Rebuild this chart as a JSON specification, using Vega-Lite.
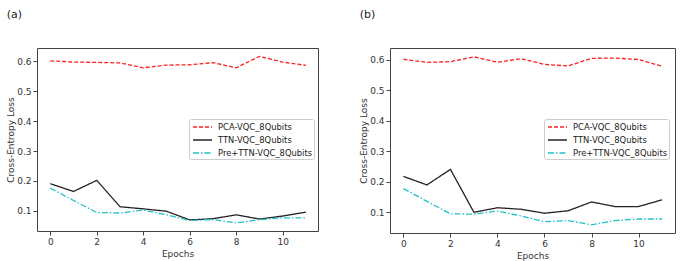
{
  "$schema": "https://vega.github.io/schema/vega-lite/v6.json",
  "autosize": {"type": "pad"},
  "padding": {"left": 6, "top": 8, "right": 0, "bottom": 0},
  "background": "white",
  "config": {
    "font": "DejaVu Sans",
    "view": {"stroke": "#444", "strokeWidth": 1},
    "axis": {"grid": false, "domain": false, "tickColor": "#444", "tickSize": 4, "labelFontSize": 9, "labelColor": "#333", "titleFontSize": 9, "titleFontWeight": "normal", "titleColor": "#333", "labelPadding": 2},
    "legend": {"labelFontSize": 8.4, "labelColor": "#222", "fillColor": "white", "strokeColor": "#ccc", "cornerRadius": 2, "padding": 1, "rowPadding": 1, "symbolType": "M-0.667,0H2.5", "symbolSize": 144, "symbolStrokeWidth": 1.3, "title": null, "labelLimit": 200, "labelOffset": 14},
    "title": {"fontSize": 11, "fontWeight": "normal", "anchor": "start", "color": "#222", "frame": "bounds"}
  },
  "datasets": {
    "loss": [
      {"p": "a", "m": "PCA-VQC_8Qubits", "e": 0, "v": 0.601},
      {"p": "a", "m": "PCA-VQC_8Qubits", "e": 1, "v": 0.597},
      {"p": "a", "m": "PCA-VQC_8Qubits", "e": 2, "v": 0.596},
      {"p": "a", "m": "PCA-VQC_8Qubits", "e": 3, "v": 0.594},
      {"p": "a", "m": "PCA-VQC_8Qubits", "e": 4, "v": 0.578},
      {"p": "a", "m": "PCA-VQC_8Qubits", "e": 5, "v": 0.587},
      {"p": "a", "m": "PCA-VQC_8Qubits", "e": 6, "v": 0.588},
      {"p": "a", "m": "PCA-VQC_8Qubits", "e": 7, "v": 0.595},
      {"p": "a", "m": "PCA-VQC_8Qubits", "e": 8, "v": 0.578},
      {"p": "a", "m": "PCA-VQC_8Qubits", "e": 9, "v": 0.616},
      {"p": "a", "m": "PCA-VQC_8Qubits", "e": 10, "v": 0.597},
      {"p": "a", "m": "PCA-VQC_8Qubits", "e": 11, "v": 0.586},
      {"p": "a", "m": "TTN-VQC_8Qubits", "e": 0, "v": 0.191},
      {"p": "a", "m": "TTN-VQC_8Qubits", "e": 1, "v": 0.165},
      {"p": "a", "m": "TTN-VQC_8Qubits", "e": 2, "v": 0.202},
      {"p": "a", "m": "TTN-VQC_8Qubits", "e": 3, "v": 0.114},
      {"p": "a", "m": "TTN-VQC_8Qubits", "e": 4, "v": 0.107},
      {"p": "a", "m": "TTN-VQC_8Qubits", "e": 5, "v": 0.099},
      {"p": "a", "m": "TTN-VQC_8Qubits", "e": 6, "v": 0.070},
      {"p": "a", "m": "TTN-VQC_8Qubits", "e": 7, "v": 0.074},
      {"p": "a", "m": "TTN-VQC_8Qubits", "e": 8, "v": 0.087},
      {"p": "a", "m": "TTN-VQC_8Qubits", "e": 9, "v": 0.073},
      {"p": "a", "m": "TTN-VQC_8Qubits", "e": 10, "v": 0.083},
      {"p": "a", "m": "TTN-VQC_8Qubits", "e": 11, "v": 0.096},
      {"p": "a", "m": "Pre+TTN-VQC_8Qubits", "e": 0, "v": 0.176},
      {"p": "a", "m": "Pre+TTN-VQC_8Qubits", "e": 1, "v": 0.135},
      {"p": "a", "m": "Pre+TTN-VQC_8Qubits", "e": 2, "v": 0.095},
      {"p": "a", "m": "Pre+TTN-VQC_8Qubits", "e": 3, "v": 0.093},
      {"p": "a", "m": "Pre+TTN-VQC_8Qubits", "e": 4, "v": 0.103},
      {"p": "a", "m": "Pre+TTN-VQC_8Qubits", "e": 5, "v": 0.087},
      {"p": "a", "m": "Pre+TTN-VQC_8Qubits", "e": 6, "v": 0.068},
      {"p": "a", "m": "Pre+TTN-VQC_8Qubits", "e": 7, "v": 0.071},
      {"p": "a", "m": "Pre+TTN-VQC_8Qubits", "e": 8, "v": 0.060},
      {"p": "a", "m": "Pre+TTN-VQC_8Qubits", "e": 9, "v": 0.071},
      {"p": "a", "m": "Pre+TTN-VQC_8Qubits", "e": 10, "v": 0.077},
      {"p": "a", "m": "Pre+TTN-VQC_8Qubits", "e": 11, "v": 0.077},
      {"p": "b", "m": "PCA-VQC_8Qubits", "e": 0, "v": 0.602},
      {"p": "b", "m": "PCA-VQC_8Qubits", "e": 1, "v": 0.592},
      {"p": "b", "m": "PCA-VQC_8Qubits", "e": 2, "v": 0.594},
      {"p": "b", "m": "PCA-VQC_8Qubits", "e": 3, "v": 0.610},
      {"p": "b", "m": "PCA-VQC_8Qubits", "e": 4, "v": 0.592},
      {"p": "b", "m": "PCA-VQC_8Qubits", "e": 5, "v": 0.604},
      {"p": "b", "m": "PCA-VQC_8Qubits", "e": 6, "v": 0.585},
      {"p": "b", "m": "PCA-VQC_8Qubits", "e": 7, "v": 0.580},
      {"p": "b", "m": "PCA-VQC_8Qubits", "e": 8, "v": 0.605},
      {"p": "b", "m": "PCA-VQC_8Qubits", "e": 9, "v": 0.606},
      {"p": "b", "m": "PCA-VQC_8Qubits", "e": 10, "v": 0.601},
      {"p": "b", "m": "PCA-VQC_8Qubits", "e": 11, "v": 0.579},
      {"p": "b", "m": "TTN-VQC_8Qubits", "e": 0, "v": 0.217},
      {"p": "b", "m": "TTN-VQC_8Qubits", "e": 1, "v": 0.189},
      {"p": "b", "m": "TTN-VQC_8Qubits", "e": 2, "v": 0.240},
      {"p": "b", "m": "TTN-VQC_8Qubits", "e": 3, "v": 0.099},
      {"p": "b", "m": "TTN-VQC_8Qubits", "e": 4, "v": 0.114},
      {"p": "b", "m": "TTN-VQC_8Qubits", "e": 5, "v": 0.109},
      {"p": "b", "m": "TTN-VQC_8Qubits", "e": 6, "v": 0.096},
      {"p": "b", "m": "TTN-VQC_8Qubits", "e": 7, "v": 0.104},
      {"p": "b", "m": "TTN-VQC_8Qubits", "e": 8, "v": 0.133},
      {"p": "b", "m": "TTN-VQC_8Qubits", "e": 9, "v": 0.118},
      {"p": "b", "m": "TTN-VQC_8Qubits", "e": 10, "v": 0.118},
      {"p": "b", "m": "TTN-VQC_8Qubits", "e": 11, "v": 0.140},
      {"p": "b", "m": "Pre+TTN-VQC_8Qubits", "e": 0, "v": 0.177},
      {"p": "b", "m": "Pre+TTN-VQC_8Qubits", "e": 1, "v": 0.135},
      {"p": "b", "m": "Pre+TTN-VQC_8Qubits", "e": 2, "v": 0.094},
      {"p": "b", "m": "Pre+TTN-VQC_8Qubits", "e": 3, "v": 0.093},
      {"p": "b", "m": "Pre+TTN-VQC_8Qubits", "e": 4, "v": 0.103},
      {"p": "b", "m": "Pre+TTN-VQC_8Qubits", "e": 5, "v": 0.087},
      {"p": "b", "m": "Pre+TTN-VQC_8Qubits", "e": 6, "v": 0.068},
      {"p": "b", "m": "Pre+TTN-VQC_8Qubits", "e": 7, "v": 0.072},
      {"p": "b", "m": "Pre+TTN-VQC_8Qubits", "e": 8, "v": 0.058},
      {"p": "b", "m": "Pre+TTN-VQC_8Qubits", "e": 9, "v": 0.072},
      {"p": "b", "m": "Pre+TTN-VQC_8Qubits", "e": 10, "v": 0.077},
      {"p": "b", "m": "Pre+TTN-VQC_8Qubits", "e": 11, "v": 0.077}
    ]
  },
  "data": {"name": "loss"},
  "bounds": "flush",
  "spacing": 72,
  "resolve": {"scale": {"color": "independent", "strokeDash": "independent"}, "legend": {"color": "independent", "strokeDash": "independent"}},
  "hconcat": [
    {
      "title": {"text": "(a)", "offset": 28},
      "width": 281,
      "height": 183,
      "transform": [{"filter": "datum.p === 'a'"}],
      "mark": {"type": "line", "strokeWidth": 1.3},
      "encoding": {
        "x": {"field": "e", "type": "quantitative", "title": "Epochs", "scale": {"domain": [-0.57, 11.52], "nice": false, "zero": false}, "axis": {"values": [0, 2, 4, 6, 8, 10], "titlePadding": 3}},
        "y": {"field": "v", "type": "quantitative", "title": "Cross-Entropy Loss", "scale": {"domain": [0.033, 0.644], "nice": false, "zero": false}, "axis": {"values": [0.1, 0.2, 0.3, 0.4, 0.5, 0.6], "format": ".1f", "titlePadding": 1}},
        "color": {"field": "m", "type": "nominal", "scale": {"domain": ["PCA-VQC_8Qubits", "TTN-VQC_8Qubits", "Pre+TTN-VQC_8Qubits"], "range": ["#ff2020", "#222222", "#20c0c8"]}, "legend": {"orient": "none", "legendX": 152, "legendY": 71}},
        "strokeDash": {"field": "m", "type": "nominal", "scale": {"domain": ["PCA-VQC_8Qubits", "TTN-VQC_8Qubits", "Pre+TTN-VQC_8Qubits"], "range": [[4, 2], [1, 0], [6, 2, 1.5, 2]]}, "legend": {"orient": "none", "legendX": 152, "legendY": 71}}
      }
    },
    {
      "title": {"text": "(b)", "offset": 28},
      "width": 285,
      "height": 185,
      "transform": [{"filter": "datum.p === 'b'"}],
      "mark": {"type": "line", "strokeWidth": 1.3},
      "encoding": {
        "x": {"field": "e", "type": "quantitative", "title": "Epochs", "scale": {"domain": [-0.57, 11.55], "nice": false, "zero": false}, "axis": {"values": [0, 2, 4, 6, 8, 10], "titlePadding": 3}},
        "y": {"field": "v", "type": "quantitative", "title": "Cross-Entropy Loss", "scale": {"domain": [0.031, 0.639], "nice": false, "zero": false}, "axis": {"values": [0.1, 0.2, 0.3, 0.4, 0.5, 0.6], "format": ".1f", "titlePadding": 1}},
        "color": {"field": "m", "type": "nominal", "scale": {"domain": ["PCA-VQC_8Qubits", "TTN-VQC_8Qubits", "Pre+TTN-VQC_8Qubits"], "range": ["#ff2020", "#222222", "#20c0c8"]}, "legend": {"orient": "none", "legendX": 154, "legendY": 71}},
        "strokeDash": {"field": "m", "type": "nominal", "scale": {"domain": ["PCA-VQC_8Qubits", "TTN-VQC_8Qubits", "Pre+TTN-VQC_8Qubits"], "range": [[4, 2], [1, 0], [6, 2, 1.5, 2]]}, "legend": {"orient": "none", "legendX": 154, "legendY": 71}}
      }
    }
  ]
}
